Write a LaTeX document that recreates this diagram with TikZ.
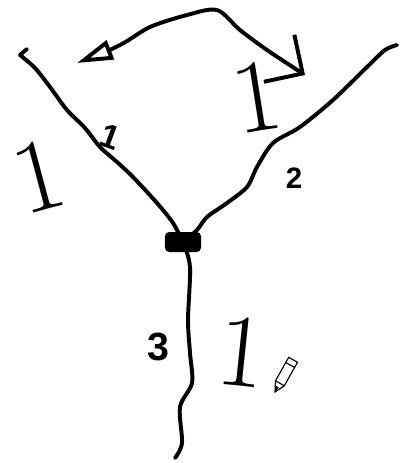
\documentclass[tikz,border=0pt]{standalone}
\usepackage{fontspec}
\setsansfont{Liberation Sans}
\usetikzlibrary{arrows.meta}

\begin{document}
\begin{tikzpicture}[
  x=0.025cm, y=-0.025cm,
  stroke/.style={line width=2.8pt, line cap=round, line join=round},
  hubdot/.style={fill, rounded corners=3pt, minimum width=0.9cm, minimum height=0.5cm, inner sep=0pt},
  bigone/.style={font=\fontsize{74}{78}\selectfont, inner sep=0pt},
  tag/.style={font=\sffamily\bfseries\fontsize{24}{26}\selectfont, inner sep=0pt},
  swaparrow/.style={stroke, {Triangle[open, length=9mm, width=5mm]}-{Straight Barb[length=7mm, width=14mm]}},
]
\useasboundingbox (0,0) rectangle (400,463);

% -- ends and hub --
\node[hubdot] (hub) at (183,242) {};
\coordinate (leftend) at (20,55);
\coordinate (rightend) at (397,45);
\coordinate (bottomend) at (175,458);
\coordinate (hook) at (27,49);

% -- edges --
\draw[stroke] (hook) -- (leftend);
\draw[stroke] plot[smooth] coordinates {(leftend) (35,68) (50,87) (67,110) (85,128) (100,147) (117,162) (133,177) (157,203) (173,223) (hub.center)};
\draw[stroke] plot[smooth] coordinates {(rightend) (385,50) (367,67) (333,100) (300,127) (273,143) (257,167) (247,187) (227,203) (207,217) (197,230) (hub.center)};
\draw[stroke] plot[smooth] coordinates {(hub.center) (190,267) (188,320) (190,353) (192,383) (180,407) (182,443) (bottomend)};

% -- edge tags --
\node[tag, rotate=-20] (tagA) at (110,137) {1};
\node[tag, font=\sffamily\bfseries\fontsize{21}{23}\selectfont] (tagB) at (294,178) {2};
\node[tag, font=\sffamily\bfseries\fontsize{28}{30}\selectfont] (tagC) at (158,347) {3};

% -- big ones --
\node[bigone, rotate=15] (oneLeft) at (39,176) {1};
\node[bigone, rotate=9] (oneRight) at (257,97) {1};
\node[bigone, rotate=-6] (oneBottom) at (242,352) {1};

% -- swap arrow --
\coordinate (swapL) at (77,63);
\coordinate (swapR) at (305,75);
\draw[swaparrow] plot[smooth] coordinates {(swapL) (120,45) (150,27) (187,15) (217,10) (240,30) (267,50) (swapR)};

% pencil
\filldraw[line width=0.8pt, fill=white] (275,392) -- (284.3,385.8) -- (297.5,362.3) -- (288.7,357.3) -- (275.5,380.8) -- cycle;
\draw[line width=0.8pt] (275.5,380.8) -- (284.3,385.8);
\draw[line width=0.8pt] (285.8,362.5) -- (294.6,367.5);
\fill (275,392) -- (278.7,387.5) -- (275.2,385.5) -- cycle;

\end{tikzpicture}
\end{document}
